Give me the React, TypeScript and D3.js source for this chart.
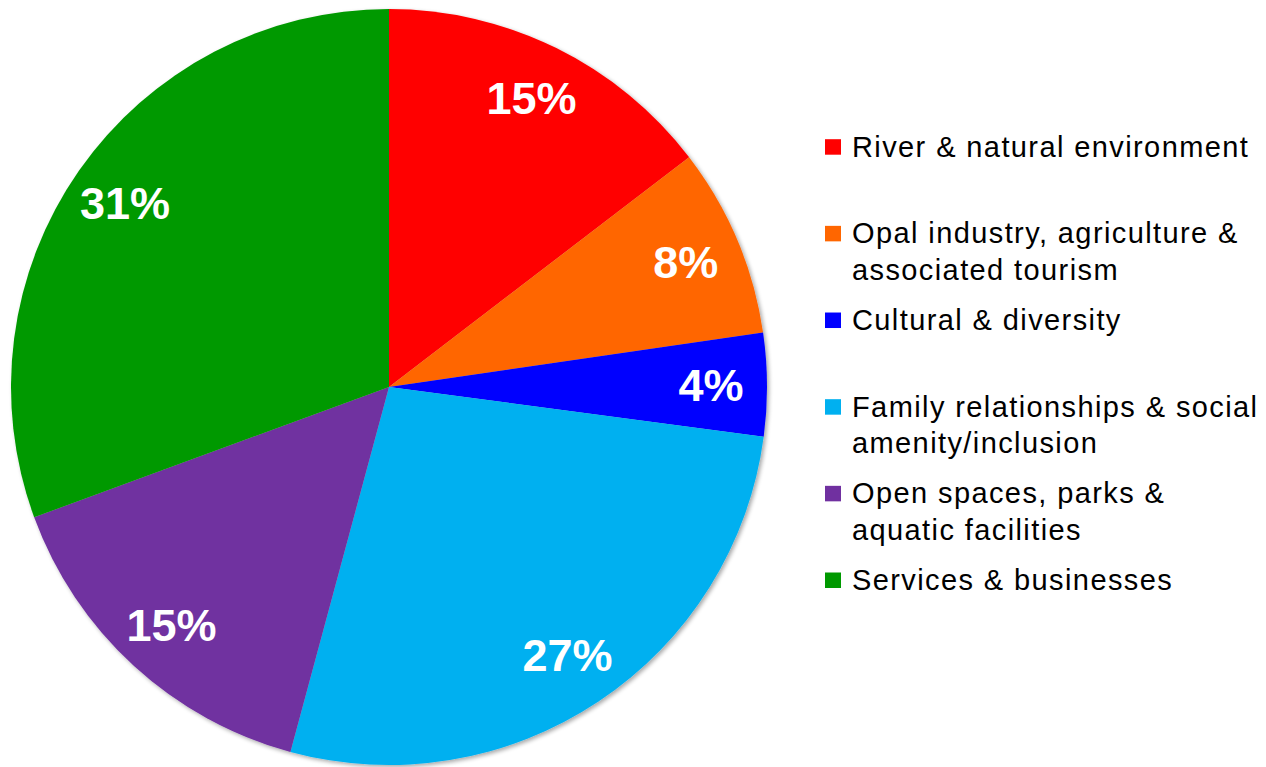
import React from "react";
import * as d3 from "d3";

const categories = [
  "River & natural environment",
  "Opal industry, agriculture & associated tourism",
  "Cultural & diversity",
  "Family relationships & social amenity/inclusion",
  "Open spaces, parks & aquatic facilities",
  "Services & businesses",
];
const legendLines = [
  ["River & natural environment"],
  ["Opal industry, agriculture &", "associated tourism"],
  ["Cultural & diversity"],
  ["Family relationships & social", "amenity/inclusion"],
  ["Open spaces, parks &", "aquatic facilities"],
  ["Services & businesses"],
];
const values = [14.6, 8.1, 4.4, 27.1, 15.2, 30.6];
const colors = ["#FF0000", "#FF6600", "#0000FF", "#00B0F0", "#7030A0", "#009900"];

const W = 1266;
const H = 767;
const cx = 389;
const cy = 387;
const R = 378;
const labelR = 322;

export default function App() {
  const total = d3.sum(values);
  const pie = d3.pie<number>().sort(null).value((d) => d);
  const arcs = pie(values);
  const arc = d3.arc<d3.PieArcDatum<number>>().innerRadius(0).outerRadius(R);
  const labelArc = d3.arc<d3.PieArcDatum<number>>().innerRadius(labelR).outerRadius(labelR);

  const legendY = d3.scaleLinear().domain([0, categories.length - 1]).range([156.7, 590]);

  return (
    <svg
      width={W}
      height={H}
      style={{ position: "absolute", left: 0, top: 0, background: "#fff" }}
      fontFamily="'Liberation Sans', Arial, sans-serif"
    >
      <defs>
        <filter id="shadow" x="-10%" y="-10%" width="120%" height="120%">
          <feGaussianBlur in="SourceAlpha" stdDeviation="2" />
          <feOffset dx="2" dy="2" result="ob" />
          <feComponentTransfer>
            <feFuncA type="linear" slope="0.35" />
          </feComponentTransfer>
          <feMerge>
            <feMergeNode />
            <feMergeNode in="SourceGraphic" />
          </feMerge>
        </filter>
      </defs>
      <g transform={`translate(${cx},${cy})`}>
        <g filter="url(#shadow)">
          {arcs.map((a, i) => (
            <path key={i} d={arc(a) || ""} fill={colors[i]} />
          ))}
        </g>
        {arcs.map((a, i) => {
          const [x, y] = labelArc.centroid(a);
          return (
            <text
              key={i}
              x={x}
              y={y}
              dy="0.36em"
              textAnchor="middle"
              fill="#fff"
              fontWeight="bold"
              fontSize={45}
            >
              {Math.round((values[i] / total) * 100)}%
            </text>
          );
        })}
      </g>
      <g>
        {categories.map((c, i) => {
          const by = legendY(i);
          return (
            <g key={c}>
              <rect x={825} y={by - 17.5} width={16} height={15.5} fill={colors[i]} />
              {legendLines[i].map((ln, j) => (
                <text
                  key={j}
                  x={852}
                  y={by + j * 36.7}
                  fontSize={29}
                  letterSpacing={1.4}
                  fill="#000"
                >
                  {ln}
                </text>
              ))}
            </g>
          );
        })}
      </g>
    </svg>
  );
}
